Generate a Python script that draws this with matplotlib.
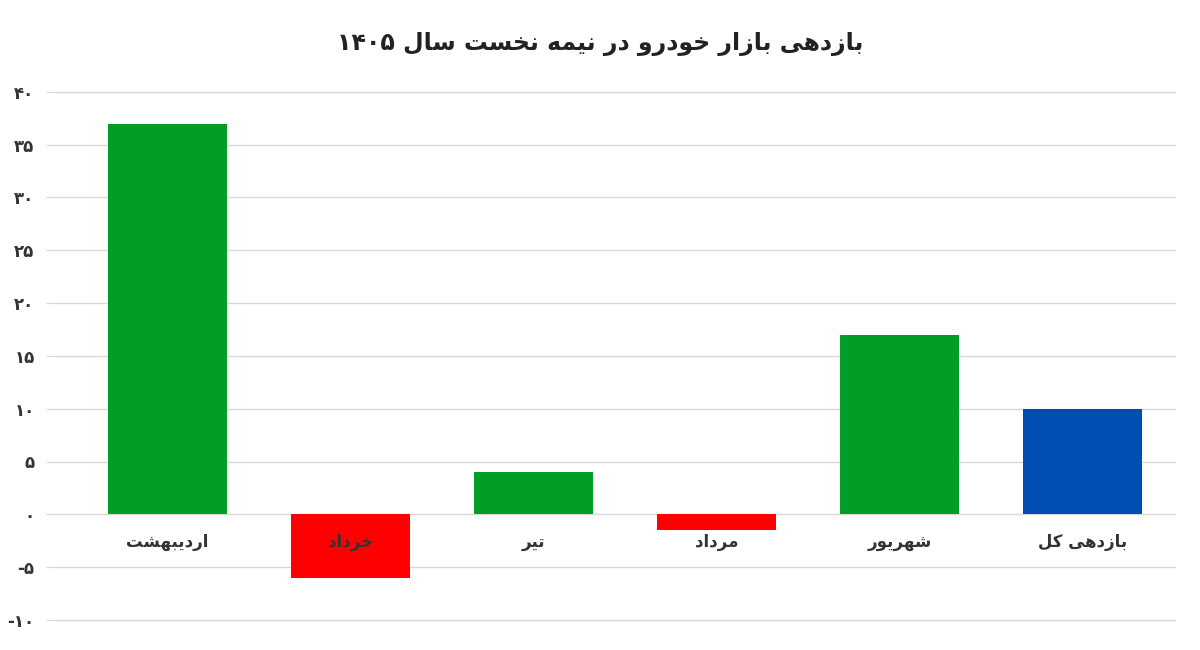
import matplotlib
matplotlib.use("Agg")
import matplotlib.pyplot as plt

# --- minimal Arabic/Persian shaper (no external libs available) ---
FORMS = {  # isolated, final, initial, medial
    'ا': ('\uFE8D', '\uFE8E', None, None),
    'ب': ('\uFE8F', '\uFE90', '\uFE91', '\uFE92'),
    'ت': ('\uFE95', '\uFE96', '\uFE97', '\uFE98'),
    'خ': ('\uFEA5', '\uFEA6', '\uFEA7', '\uFEA8'),
    'د': ('\uFEA9', '\uFEAA', None, None),
    'ر': ('\uFEAD', '\uFEAE', None, None),
    'ز': ('\uFEAF', '\uFEB0', None, None),
    'س': ('\uFEB1', '\uFEB2', '\uFEB3', '\uFEB4'),
    'ش': ('\uFEB5', '\uFEB6', '\uFEB7', '\uFEB8'),
    'ل': ('\uFEDD', '\uFEDE', '\uFEDF', '\uFEE0'),
    'م': ('\uFEE1', '\uFEE2', '\uFEE3', '\uFEE4'),
    'ن': ('\uFEE5', '\uFEE6', '\uFEE7', '\uFEE8'),
    'ه': ('\uFEE9', '\uFEEA', '\uFEEB', '\uFEEC'),
    'و': ('\uFEED', '\uFEEE', None, None),
    'ی': ('\uFBFC', '\uFBFD', '\uFBFE', '\uFBFF'),
    'ک': ('\uFB8E', '\uFB8F', '\uFB90', '\uFB91'),
}


def shape(text):
    out = []
    for i, ch in enumerate(text):
        if ch not in FORMS:
            out.append(ch)
            continue
        prev = text[i - 1] if i > 0 else ''
        nxt = text[i + 1] if i + 1 < len(text) else ''
        join_prev = prev in FORMS and FORMS[prev][2] is not None
        join_next = nxt in FORMS and FORMS[ch][2] is not None
        iso, fin, ini, med = FORMS[ch]
        if join_prev and join_next:
            out.append(med)
        elif join_prev:
            out.append(fin)
        elif join_next:
            out.append(ini)
        else:
            out.append(iso)
    # visual order: reverse words' letters, keep digit runs in LTR order
    words = ''.join(out).split(' ')
    vis = []
    for w in words:
        if all(c in '۰۱۲۳۴۵۶۷۸۹' for c in w):
            vis.append(w)
        else:
            vis.append(w[::-1])
    return ' '.join(vis[::-1])


def fa_num(v):
    return str(v).translate(str.maketrans('0123456789', '۰۱۲۳۴۵۶۷۸۹'))


TITLE = "بازدهی بازار خودرو در نیمه نخست سال ۱۴۰۵"
categories = ["اردیبهشت", "خرداد", "تیر", "مرداد", "شهریور", "بازدهی کل"]
values = [37, -6, 4, -1.5, 17, 10]
colors = ["#009e26", "#ff0000", "#009e26", "#ff0000", "#009e26", "#004db3"]
yticks = [-10, -5, 0, 5, 10, 15, 20, 25, 30, 35, 40]

plt.rcParams['font.family'] = ['DejaVu Sans']

fig, ax = plt.subplots(figsize=(12, 6.5), dpi=100)
fig.subplots_adjust(left=0.045, right=0.98, top=0.875, bottom=0.03)

x = list(range(len(categories)))
ax.bar(x, values, width=0.65, color=colors, zorder=3)

for xi, cat in zip(x, categories):
    ax.text(xi, -2.6, shape(cat), ha='center', va='center', fontsize=12,
            fontweight='bold', color='#333333', zorder=4)

ax.set_yticks(yticks)
ax.set_yticklabels([fa_num(t) if t >= 0 else "-" + fa_num(abs(t)) for t in yticks],
                   fontsize=12, fontweight='bold', color='#333333')
ax.set_ylim(-11, 41)
ax.set_xlim(-0.62, 5.51)
ax.set_xticks([])
ax.grid(axis='y', color='#d9d9d9', linewidth=1, zorder=0)
ax.tick_params(axis='y', length=6, color='#d9d9d9', pad=8)
for s in ax.spines.values():
    s.set_visible(False)

fig.suptitle(shape(TITLE), fontsize=17, fontweight='bold', color='#222222', y=0.95)

fig.savefig("out.png", dpi=100)
